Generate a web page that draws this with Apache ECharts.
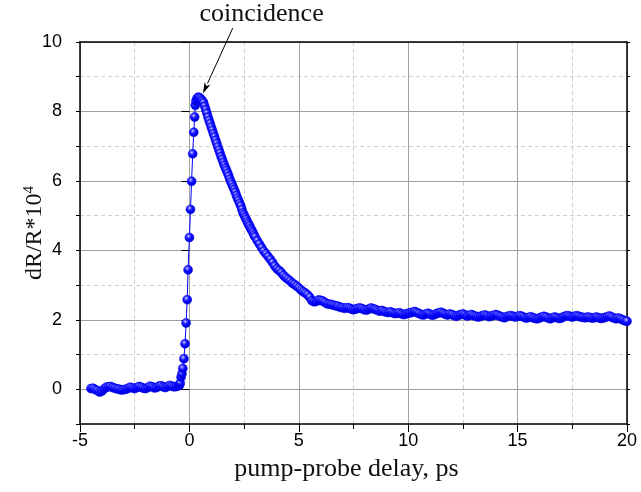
<!DOCTYPE html>
<html>
<head>
<meta charset="utf-8">
<script src="https://cdn.jsdelivr.net/npm/echarts@6/dist/echarts.min.js"></script>
<style>
html,body{margin:0;padding:0;background:#fff;}
#chart{width:641px;height:492px;}
</style>
</head>
<body>
<div id="chart"></div>
<script>
// ---- data ----
const baselineDelay = [-4.5,-4.4,-4.3,-4.2,-4.1,-4.0,-3.9,-3.8,-3.7,-3.6,-3.5,-3.4,-3.3,-3.2,-3.1,-3.0,-2.9,-2.8,-2.7,-2.6,-2.5,-2.4,-2.3,-2.2,-2.1,-2.0,-1.9,-1.8,-1.7,-1.6,-1.5,-1.4,-1.3,-1.2,-1.1,-1.0,-0.9,-0.8,-0.7,-0.6,-0.5];
const baselineSignal = [0.02,0.03,-0.01,-0.04,-0.08,-0.05,0.01,0.06,0.07,0.08,0.05,0.03,0.01,0.0,-0.02,-0.01,0.0,0.03,0.06,0.04,0.02,0.05,0.08,0.06,0.03,0.02,0.05,0.09,0.07,0.04,0.05,0.09,0.1,0.07,0.05,0.08,0.11,0.09,0.07,0.08,0.1];

const riseDelay = [-0.45,-0.42,-0.38,-0.34,-0.3,-0.25,-0.2,-0.15,-0.1,-0.06,0.0,0.05,0.1,0.15,0.2,0.24,0.27,0.3,0.35,0.4,0.45,0.5,0.55,0.6];
const riseSignal = [0.12,0.18,0.35,0.45,0.6,0.88,1.31,1.91,2.58,3.44,4.37,5.18,5.99,6.78,7.4,7.84,8.18,8.3,8.38,8.41,8.4,8.38,8.33,8.3];

const decayDelay = [0.65,0.7,0.75,0.8,0.85,0.9,0.95,1.0,1.05,1.1,1.15,1.2,1.25,1.3,1.35,1.4,1.45,1.5,1.55,1.6,1.65,1.7,1.75,1.8,1.85,1.9,1.95,2.0,2.05,2.1,2.15,2.2,2.25,2.3,2.35,2.4,2.45,2.5,2.55,2.6,2.65,2.7,2.75,2.8,2.85,2.9,2.95,3.0];
const decaySignal = [8.25,8.15,8.05,7.95,7.84,7.74,7.65,7.55,7.46,7.36,7.27,7.17,7.08,6.98,6.89,6.8,6.7,6.62,6.53,6.45,6.37,6.3,6.22,6.14,6.05,5.97,5.9,5.82,5.75,5.67,5.58,5.5,5.43,5.35,5.28,5.18,5.08,5.02,4.95,4.89,4.82,4.76,4.7,4.63,4.58,4.52,4.45,4.39];

const tailDelay = [
 3.1,3.2,3.3,3.4,3.5,3.6,3.7,3.8,3.9,4.0,
 4.1,4.2,4.3,4.4,4.5,4.6,4.7,4.8,4.9,5.0,
 5.1,5.2,5.3,5.4,5.5,5.6,5.7,5.8,5.9,6.0,
 6.1,6.2,6.3,6.4,6.5,6.6,6.7,6.8,6.9,7.0,
 7.1,7.2,7.3,7.4,7.5,7.6,7.7,7.8,7.9,8.0,
 8.1,8.2,8.3,8.4,8.5,8.6,8.7,8.8,8.9,9.0,
 9.1,9.2,9.3,9.4,9.5,9.6,9.7,9.8,9.9,10.0,
 10.1,10.2,10.3,10.4,10.5,10.6,10.7,10.8,10.9,11.0,
 11.1,11.2,11.3,11.4,11.5,11.6,11.7,11.8,11.9,12.0,
 12.1,12.2,12.3,12.4,12.5,12.6,12.7,12.8,12.9,13.0,
 13.1,13.2,13.3,13.4,13.5,13.6,13.7,13.8,13.9,14.0,
 14.1,14.2,14.3,14.4,14.5,14.6,14.7,14.8,14.9,15.0,
 15.1,15.2,15.3,15.4,15.5,15.6,15.7,15.8,15.9,16.0,
 16.1,16.2,16.3,16.4,16.5,16.6,16.7,16.8,16.9,17.0,
 17.1,17.2,17.3,17.4,17.5,17.6,17.7,17.8,17.9,18.0,
 18.1,18.2,18.3,18.4,18.5,18.6,18.7,18.8,18.9,19.0,
 19.1,19.2,19.3,19.4,19.5,19.6,19.7,19.8,19.9,20.0];
const tailSignal = [
 4.28,4.18,4.08,3.98,3.9,3.82,3.74,3.65,3.55,3.47,
 3.42,3.36,3.28,3.22,3.17,3.12,3.06,3.02,2.97,2.92,
 2.86,2.81,2.77,2.72,2.65,2.55,2.52,2.53,2.57,2.56,
 2.54,2.5,2.46,2.45,2.44,2.42,2.4,2.39,2.36,2.35,
 2.33,2.35,2.34,2.31,2.29,2.31,2.33,2.34,2.32,2.29,
 2.28,2.31,2.34,2.32,2.3,2.27,2.25,2.27,2.24,2.22,
 2.21,2.23,2.2,2.18,2.19,2.2,2.17,2.15,2.17,2.19,
 2.2,2.22,2.24,2.21,2.18,2.15,2.14,2.17,2.19,2.16,
 2.13,2.15,2.18,2.2,2.22,2.19,2.16,2.14,2.17,2.15,
 2.12,2.1,2.13,2.15,2.17,2.14,2.11,2.13,2.15,2.12,
 2.1,2.08,2.1,2.12,2.14,2.12,2.09,2.11,2.13,2.15,
 2.13,2.1,2.08,2.06,2.09,2.11,2.12,2.1,2.08,2.1,
 2.12,2.1,2.07,2.05,2.07,2.09,2.06,2.04,2.03,2.05,
 2.08,2.1,2.08,2.05,2.03,2.06,2.08,2.06,2.04,2.05,
 2.09,2.11,2.12,2.1,2.08,2.1,2.12,2.1,2.08,2.07,
 2.06,2.08,2.07,2.05,2.06,2.08,2.06,2.04,2.05,2.07,
 2.09,2.11,2.08,2.05,2.03,2.05,2.03,2.0,1.97,1.96];

const xTicks = {min: -5, max: 20, step: 5};
const yLabelValues = [0, 2, 4, 6, 8, 10];
const yRange = {min: -1, max: 10};
const xTitle = 'pump-probe delay, ps';
const yTitleBase = 'dR/R*10';
const yTitleSup = '4';
const annotationText = 'coincidence';
const annotationTextPos = [3.3, 10.8];
const arrowFrom = [1.98, 10.4];
const arrowTo = [0.62, 8.52];

// ---- build ----
const delay = baselineDelay.concat(riseDelay, decayDelay, tailDelay);
const signal = baselineSignal.concat(riseSignal, decaySignal, tailSignal);
const seriesData = delay.map((d, i) => [d, signal[i]]);

const chart = echarts.init(document.getElementById('chart'), null, {renderer: 'canvas'});
const sans = '"Liberation Sans", Arial, sans-serif';
const serif = '"Liberation Serif", "Times New Roman", serif';

const markerFill = new echarts.graphic.RadialGradient(0.4, 0.35, 0.65, [
  {offset: 0, color: '#e4e4ff'},
  {offset: 0.18, color: '#6a6aff'},
  {offset: 0.5, color: '#0808ff'},
  {offset: 1, color: '#0000d0'}
]);

chart.setOption({
  animation: false,
  backgroundColor: '#ffffff',
  grid: {left: 80, right: 14, top: 42, bottom: 68, containLabel: false, outerBoundsMode: 'none'},
  xAxis: [{
    type: 'value', position: 'bottom',
    min: xTicks.min, max: xTicks.max, interval: xTicks.step,
    name: xTitle, nameLocation: 'middle', nameGap: 32,
    nameTextStyle: {fontFamily: serif, fontSize: 26, color: '#111', padding: [0, 14, 0, 0]},
    axisLine: {show: true, onZero: false, lineStyle: {color: '#000', width: 1.5}},
    axisTick: {show: true, inside: false, length: 8, lineStyle: {color: '#000', width: 1}},
    minorTick: {show: true, splitNumber: 2, length: 5, lineStyle: {color: '#000', width: 1}},
    axisLabel: {fontFamily: sans, fontSize: 18, color: '#000', margin: 8},
    splitLine: {show: true, lineStyle: {color: '#a0a0a0', width: 1}},
    minorSplitLine: {show: true, lineStyle: {color: '#cfcfcf', width: 1, type: [4, 3]}}
  }, {
    type: 'value', position: 'top',
    min: xTicks.min, max: xTicks.max, interval: xTicks.step,
    axisLine: {show: true, onZero: false, lineStyle: {color: '#000', width: 1.5}},
    axisTick: {show: false}, axisLabel: {show: false}, splitLine: {show: false}
  }],
  yAxis: [{
    type: 'value', position: 'left',
    min: yRange.min, max: yRange.max, interval: 1,
    axisLine: {show: true, onZero: false, lineStyle: {color: '#000', width: 1.5}},
    axisTick: {show: true, length: 4, lineStyle: {color: '#000', width: 1}},
    axisLabel: {show: false},
    splitLine: {show: true, lineStyle: {color: '#cfcfcf', width: 1, type: [4, 3]}}
  }, {
    type: 'value', position: 'left',
    min: yRange.min, max: yRange.max,
    name: yTitleBase + '{sup|' + yTitleSup + '}',
    nameLocation: 'middle', nameGap: 33, nameRotate: 90, nameMoveOverlap: false,
    nameTextStyle: {fontFamily: serif, fontSize: 24, color: '#111',
      rich: {sup: {fontFamily: serif, fontSize: 15, color: '#111', verticalAlign: 'top', padding: [0, 0, 10, 0]}}},
    axisLine: {show: false},
    axisTick: {show: true, length: 8, customValues: yLabelValues, lineStyle: {color: '#000', width: 1}},
    axisLabel: {fontFamily: sans, fontSize: 18, color: '#000', margin: 18, customValues: yLabelValues},
    splitLine: {show: true, lineStyle: {color: '#a0a0a0', width: 1}}
  }, {
    type: 'value', position: 'right',
    min: yRange.min, max: yRange.max, interval: 1,
    axisLine: {show: true, onZero: false, lineStyle: {color: '#000', width: 1.5}},
    axisTick: {show: true, length: 3, lineStyle: {color: '#000', width: 1}},
    axisLabel: {show: false}, splitLine: {show: false}
  }],
  series: [{
    type: 'line',
    xAxisIndex: 0, yAxisIndex: 0,
    data: seriesData,
    showSymbol: true, symbol: 'circle', symbolSize: 9,
    clip: false,
    lineStyle: {color: '#0000ff', width: 1},
    itemStyle: {color: markerFill, borderColor: '#0000ee', borderWidth: 0.5},
    z: 5
  }]
});

// annotation (positions expressed in data units, converted by the chart scales)
const pFrom = chart.convertToPixel({xAxisIndex: 0, yAxisIndex: 0}, arrowFrom);
const pTo = chart.convertToPixel({xAxisIndex: 0, yAxisIndex: 0}, arrowTo);
const pText = chart.convertToPixel({xAxisIndex: 0, yAxisIndex: 0}, annotationTextPos);
const ang = Math.atan2(pTo[1] - pFrom[1], pTo[0] - pFrom[0]);
const headLen = 11, headHalf = 3.2;
const bx = pTo[0] - headLen * Math.cos(ang), by = pTo[1] - headLen * Math.sin(ang);
const nx = -Math.sin(ang), ny = Math.cos(ang);
chart.setOption({
  graphic: [
    {type: 'line', z: 100, shape: {x1: pFrom[0], y1: pFrom[1], x2: bx, y2: by},
     style: {stroke: '#000', lineWidth: 1}},
    {type: 'polygon', z: 100, shape: {points: [[pTo[0], pTo[1]], [bx + nx * headHalf, by + ny * headHalf], [bx + (pTo[0]-bx)*0.25, by + (pTo[1]-by)*0.25], [bx - nx * headHalf, by - ny * headHalf]]},
     style: {fill: '#000'}},
    {type: 'text', z: 100, x: pText[0], y: pText[1],
     style: {text: annotationText, font: '26px ' + serif, fill: '#111', align: 'center', verticalAlign: 'middle'}}
  ]
});
</script>
</body>
</html>
